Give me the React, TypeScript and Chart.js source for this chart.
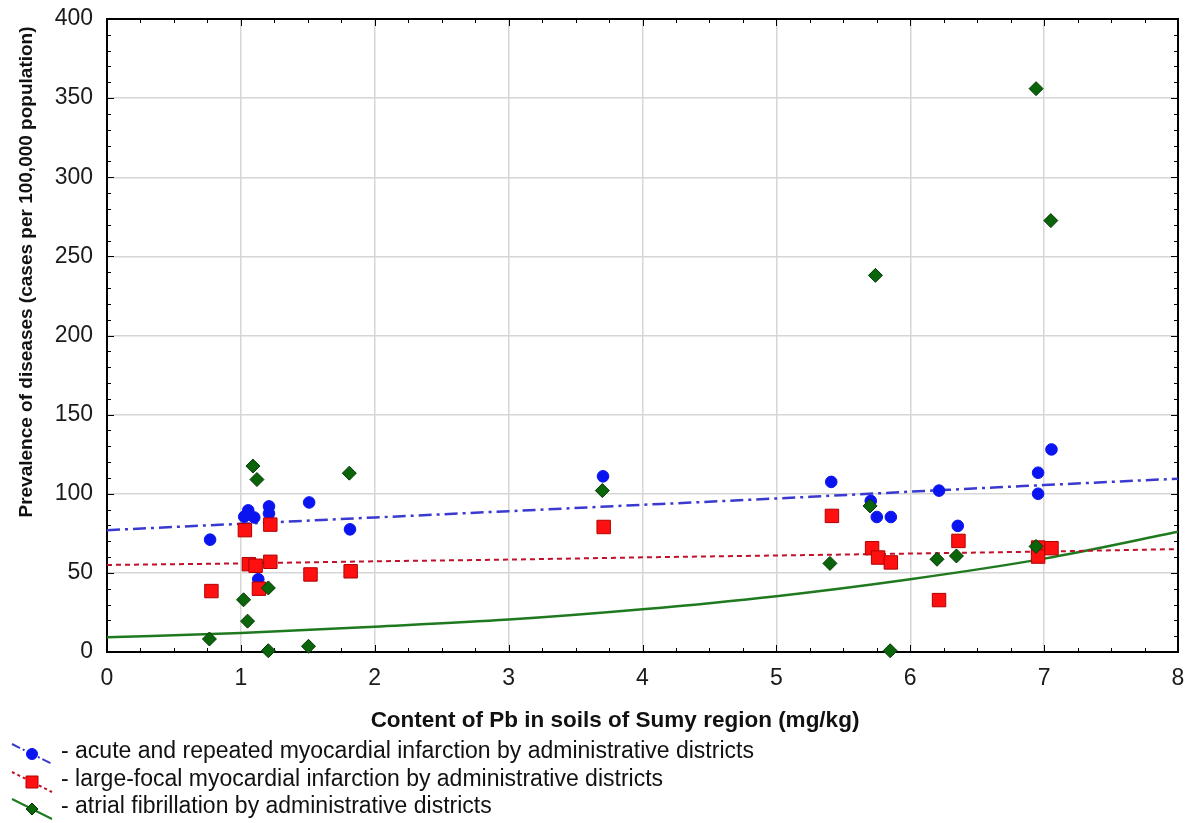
import React, { useEffect, useRef } from "react";
import { Chart, registerables } from "chart.js";

Chart.register(...registerables);

// Content of Pb (mg/kg) per district, and prevalence values per series
const acuteX = [0.77, 1.025, 1.055, 1.1, 1.13, 1.21, 1.21, 1.51, 1.815, 3.705, 5.41, 5.705, 5.75, 5.855, 6.215, 6.355, 6.955, 6.955, 7.055];
const acuteY = [71, 85.5, 89.5, 85, 46, 92, 87.5, 94.5, 77.5, 111, 107.5, 95.5, 85.3, 85.3, 102, 79.7, 113.3, 100, 128];

const focalX = [0.78, 1.03, 1.06, 1.11, 1.135, 1.22, 1.22, 1.52, 1.82, 3.71, 5.415, 5.715, 5.76, 5.855, 6.215, 6.36, 6.955, 6.955, 7.055];
const focalY = [38.5, 77, 55.5, 54.5, 40, 80.5, 57, 49, 51, 79, 86, 65.6, 59.7, 56.6, 32.8, 70.2, 66, 60.3, 65.6];

const fibX = [0.765, 1.02, 1.05, 1.09, 1.12, 1.205, 1.205, 1.505, 1.81, 3.7, 5.4, 5.7, 5.74, 5.85, 6.2, 6.345, 6.94, 6.94, 7.05];
const fibY = [8.2, 33, 19.5, 117.5, 109, 40.5, 0.8, 3.6, 113, 102, 56, 92.3, 238, 0.8, 58.6, 60.7, 66.7, 356, 272.6];

// fitted curves
const fitX = [0, 1, 2, 3, 4, 5, 6, 7, 8];
const acuteFit = [77, 81, 85, 89, 93, 97, 101.3, 105.5, 109.5];
const focalFit = [55, 56, 57.3, 58.4, 59.8, 61, 62.2, 63.5, 65];
const fibFit = [9.3, 12, 16, 20.5, 27, 35.3, 46, 59, 76];

const xTicks = [0, 1, 2, 3, 4, 5, 6, 7, 8];
const yTicks = [0, 50, 100, 150, 200, 250, 300, 350, 400];

const xTitle = "Content of Pb in soils of Sumy region (mg/kg)";
const yTitle = "Prevalence of diseases (cases per 100,000 population)";
const legendLabels = [
  "- acute and repeated myocardial infarction by administrative districts",
  "- large-focal myocardial infarction by administrative districts",
  "- atrial fibrillation by administrative districts",
];

const FONT = "'Liberation Sans', Arial, sans-serif";
const BLUE = "#0a14f0";
const BLUE_LINE = "#3a3ad0";
const RED = "#ff1010";
const RED_BORDER = "#b00000";
const RED_LINE = "#c0102a";
const GREEN = "#0a640a";
const GREEN_BORDER = "#043804";
const GREEN_LINE = "#1f7a1f";

const pts = (xs: number[], ys: number[]) => xs.map((x, i) => ({ x, y: ys[i] }));

const framePlugin = {
  id: "frame",
  beforeDatasetsDraw(chart: any) {
    const { ctx, chartArea: a, scales } = chart;
    const xs = scales.x;
    const ys = scales.y;
    ctx.save();
    ctx.strokeStyle = "#000";
    ctx.lineWidth = 1;
    for (let v = 0; v <= 8.0001; v += 0.25) {
      const px = Math.round(xs.getPixelForValue(v)) + 0.5;
      const major = Math.abs(v - Math.round(v)) < 1e-6;
      const len = major ? 7 : 4;
      ctx.beginPath();
      ctx.moveTo(px, a.bottom);
      ctx.lineTo(px, a.bottom - len);
      ctx.moveTo(px, a.top);
      ctx.lineTo(px, a.top + len);
      ctx.stroke();
    }
    for (let v = 0; v <= 400; v += 10) {
      const py = Math.round(ys.getPixelForValue(v)) + 0.5;
      const major = v % 50 === 0;
      const len = major ? 7 : 4;
      ctx.beginPath();
      ctx.moveTo(a.left, py);
      ctx.lineTo(a.left + len, py);
      ctx.moveTo(a.right, py);
      ctx.lineTo(a.right - len, py);
      ctx.stroke();
    }
    ctx.lineWidth = 2;
    ctx.strokeRect(a.left, a.top, a.right - a.left, a.bottom - a.top);
    ctx.restore();
  },
  afterDraw(chart: any) {
    const { ctx } = chart;
    ctx.save();
    ctx.fillStyle = "#111";
    ctx.font = `bold 22.5px ${FONT}`;
    ctx.textAlign = "center";
    ctx.textBaseline = "middle";
    ctx.fillText(xTitle, 615, 721);
    ctx.save();
    ctx.translate(27, 272);
    ctx.rotate(-Math.PI / 2);
    ctx.font = `bold 19px ${FONT}`;
    ctx.fillText(yTitle, 0, 0);
    ctx.restore();

    const rows = [752, 780, 807];
    const styles = [
      { line: BLUE_LINE, dash: [9, 3, 2, 3], fill: BLUE, border: BLUE, shape: "circle" },
      { line: RED_LINE, dash: [3, 3], fill: RED, border: RED_BORDER, shape: "rect" },
      { line: GREEN_LINE, dash: [], fill: GREEN, border: GREEN_BORDER, shape: "diamond" },
    ];
    styles.forEach((s, i) => {
      const cy = rows[i] + 2;
      ctx.save();
      ctx.strokeStyle = s.line;
      ctx.lineWidth = 2;
      ctx.setLineDash(s.dash);
      ctx.beginPath();
      ctx.moveTo(12, cy - 10);
      ctx.lineTo(52, cy + 10);
      ctx.stroke();
      ctx.setLineDash([]);
      ctx.fillStyle = s.fill;
      ctx.strokeStyle = s.border;
      ctx.lineWidth = 1;
      const mx = 32, my = cy;
      ctx.beginPath();
      if (s.shape === "circle") ctx.arc(mx, my, 5.5, 0, Math.PI * 2);
      else if (s.shape === "rect") ctx.rect(mx - 6, my - 6, 12, 12);
      else {
        ctx.moveTo(mx, my - 6);
        ctx.lineTo(mx + 6, my);
        ctx.lineTo(mx, my + 6);
        ctx.lineTo(mx - 6, my);
        ctx.closePath();
      }
      ctx.fill();
      ctx.stroke();
      ctx.restore();
      ctx.fillStyle = "#111";
      ctx.font = `23px ${FONT}`;
      ctx.textAlign = "left";
      ctx.textBaseline = "middle";
      ctx.fillText(legendLabels[i], 61, rows[i]);
    });
    ctx.restore();
  },
};

export default function App() {
  const ref = useRef<HTMLCanvasElement | null>(null);
  useEffect(() => {
    document.body.style.margin = "0";
    const canvas = ref.current!;
    const chart = new Chart(canvas, {
      type: "scatter",
      data: {
        datasets: [
          {
            label: "atrial fibrillation",
            data: pts(fibX, fibY),
            pointStyle: "rectRot",
            pointRadius: 7,
            backgroundColor: GREEN,
            borderColor: GREEN_BORDER,
            borderWidth: 1,
            clip: false as any,
            order: 0,
          },
          {
            label: "large-focal",
            data: pts(focalX, focalY),
            pointStyle: "rect",
            pointRadius: 9.5,
            backgroundColor: RED,
            borderColor: RED_BORDER,
            borderWidth: 1,
            clip: false as any,
            order: 1,
          },
          {
            label: "acute",
            data: pts(acuteX, acuteY),
            pointStyle: "circle",
            pointRadius: 5.8,
            backgroundColor: BLUE,
            borderColor: BLUE,
            borderWidth: 1,
            clip: false as any,
            order: 2,
          },
          {
            type: "line" as any,
            label: "fit acute",
            data: pts(fitX, acuteFit),
            borderColor: BLUE_LINE,
            borderWidth: 2.5,
            borderDash: [13, 5, 3, 5],
            pointRadius: 0,
            showLine: true,
            cubicInterpolationMode: "monotone",
            order: 3,
          },
          {
            type: "line" as any,
            label: "fit focal",
            data: pts(fitX, focalFit),
            borderColor: RED_LINE,
            borderWidth: 2,
            borderDash: [5, 4],
            pointRadius: 0,
            showLine: true,
            cubicInterpolationMode: "monotone",
            order: 4,
          },
          {
            type: "line" as any,
            label: "fit fibrillation",
            data: pts(fitX, fibFit),
            borderColor: GREEN_LINE,
            borderWidth: 2.5,
            pointRadius: 0,
            showLine: true,
            cubicInterpolationMode: "monotone",
            order: 5,
          },
        ],
      },
      options: {
        animation: false,
        responsive: false,
        events: [],
        layout: { padding: { top: 19, right: 15, left: 0, bottom: 0 } },
        plugins: { legend: { display: false }, tooltip: { enabled: false } },
        scales: {
          x: {
            type: "linear",
            min: 0,
            max: 8,
            afterBuildTicks: (s: any) => {
              s.ticks = xTicks.map((v) => ({ value: v }));
            },
            ticks: { font: { family: FONT, size: 23 }, color: "#1a1a1a", padding: 13 },
            grid: { color: "#d6d6d6", lineWidth: 1.5, drawTicks: false },
            border: { display: false },
            afterFit: (s: any) => {
              s.height = 171;
              s.paddingLeft = 0;
              s.paddingRight = 0;
            },
          },
          y: {
            type: "linear",
            min: 0,
            max: 400,
            afterBuildTicks: (s: any) => {
              s.ticks = yTicks.map((v) => ({ value: v }));
            },
            ticks: { font: { family: FONT, size: 23 }, color: "#1a1a1a", padding: 14 },
            grid: { color: "#d6d6d6", lineWidth: 1.5, drawTicks: false },
            border: { display: false },
            afterFit: (s: any) => {
              s.width = 107;
              s.paddingTop = 0;
              s.paddingBottom = 0;
            },
          },
        },
      },
      plugins: [framePlugin],
    } as any);
    return () => chart.destroy();
  }, []);
  return (
    <div style={{ width: 1193, height: 823, background: "#fff" }}>
      <canvas ref={ref} width={1193} height={823} style={{ display: "block" }} />
    </div>
  );
}
